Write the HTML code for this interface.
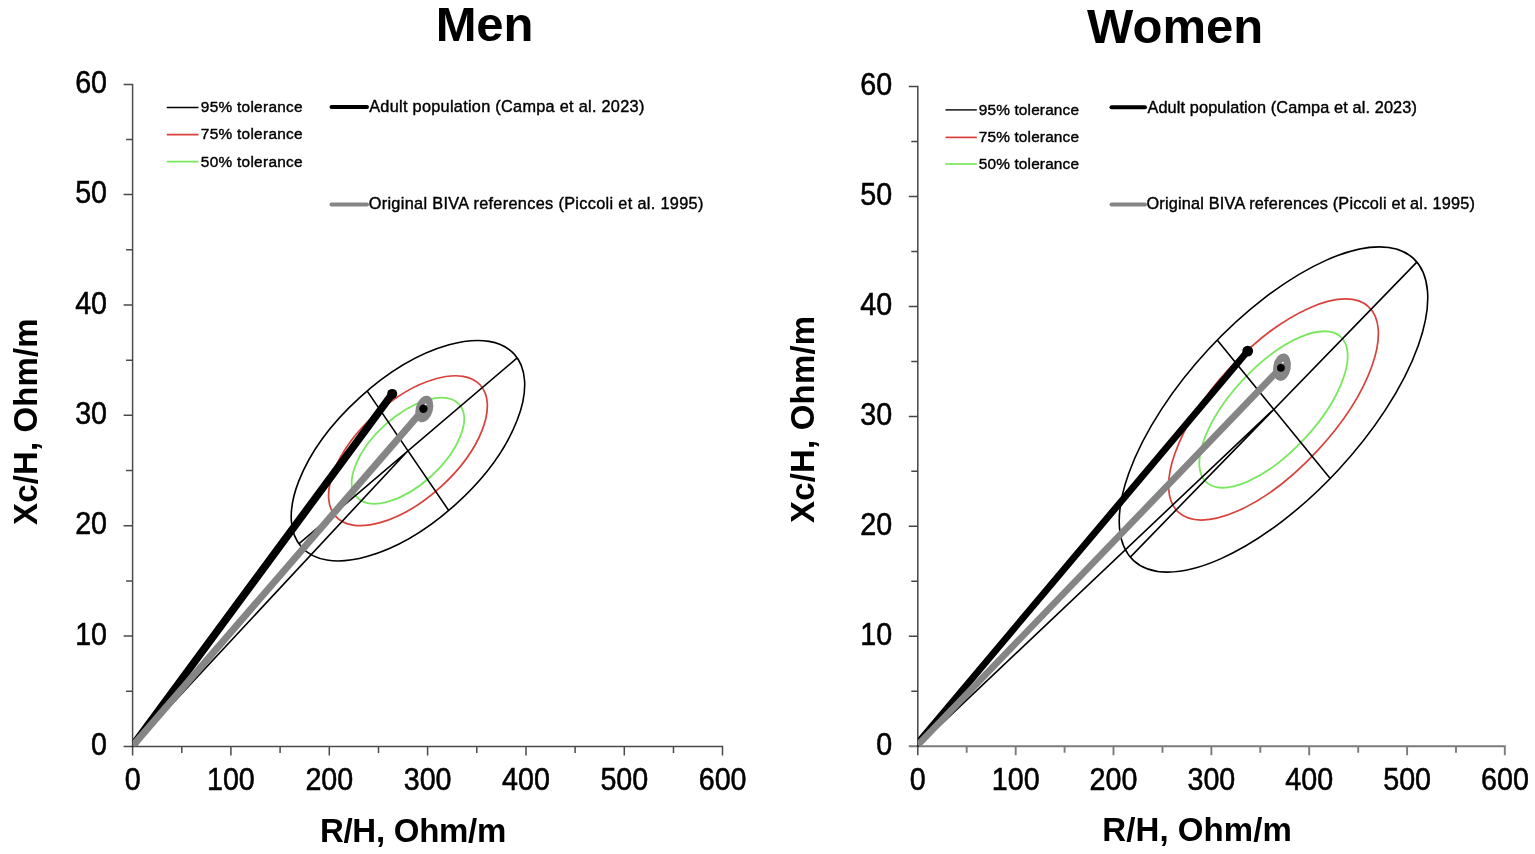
<!DOCTYPE html>
<html><head><meta charset="utf-8"><title>BIVA tolerance ellipses: Men and Women</title>
<style>html,body{margin:0;padding:0;background:#fff;}body{width:1535px;height:854px;position:relative;overflow:hidden;}</style>
</head><body>
<svg width="1535" height="854" viewBox="0 0 1535 854" style="position:absolute;left:0;top:0">
<defs>
<clipPath id="clip0"><rect x="132.6" y="64.6" width="609.9" height="681.8"/></clipPath>
<clipPath id="clip1"><rect x="917.8" y="66.4" width="607.0" height="679.9"/></clipPath>
</defs>
<path d="M123.6 746.4H722.5V755.4M181.8 746.4V752.9M230.9 746.4V755.4M280.1 746.4V752.9M329.3 746.4V755.4M378.5 746.4V752.9M427.6 746.4V755.4M476.8 746.4V752.9M526.0 746.4V755.4M575.1 746.4V752.9M624.3 746.4V755.4M673.5 746.4V752.9" stroke="#4a4a4a" stroke-width="1.5" fill="none"/><path d="M123.6 84.6H132.6V755.4M126.1 691.2H132.6M123.6 636.0H132.6M126.1 580.9H132.6M123.6 525.7H132.6M126.1 470.5H132.6M123.6 415.3H132.6M126.1 360.2H132.6M123.6 305.0H132.6M126.1 249.8H132.6M123.6 194.6H132.6M126.1 139.5H132.6" stroke="#4a4a4a" stroke-width="1.5" fill="none"/>
<g font-family="Liberation Sans, Arial, Helvetica, sans-serif" font-size="30.5" fill="#000" stroke="#000" stroke-width="0.55">
<text transform="translate(107.0 755.0) scale(0.94 1)" text-anchor="end">0</text>
<text transform="translate(107.0 644.6) scale(0.94 1)" text-anchor="end">10</text>
<text transform="translate(107.0 534.3) scale(0.94 1)" text-anchor="end">20</text>
<text transform="translate(107.0 423.9) scale(0.94 1)" text-anchor="end">30</text>
<text transform="translate(107.0 313.6) scale(0.94 1)" text-anchor="end">40</text>
<text transform="translate(107.0 203.2) scale(0.94 1)" text-anchor="end">50</text>
<text transform="translate(107.0 92.9) scale(0.94 1)" text-anchor="end">60</text>
<text transform="translate(132.6 790.0) scale(0.94 1)" text-anchor="middle">0</text>
<text transform="translate(230.9 790.0) scale(0.94 1)" text-anchor="middle">100</text>
<text transform="translate(329.3 790.0) scale(0.94 1)" text-anchor="middle">200</text>
<text transform="translate(427.6 790.0) scale(0.94 1)" text-anchor="middle">300</text>
<text transform="translate(526.0 790.0) scale(0.94 1)" text-anchor="middle">400</text>
<text transform="translate(624.3 790.0) scale(0.94 1)" text-anchor="middle">500</text>
<text transform="translate(722.6 790.0) scale(0.94 1)" text-anchor="middle">600</text>
</g>
<line x1="166.8" y1="107.5" x2="198.5" y2="107.5" stroke="#000" stroke-width="1.4"/>
<line x1="166.8" y1="134.7" x2="198.5" y2="134.7" stroke="#d9403a" stroke-width="1.7"/>
<line x1="166.8" y1="161.6" x2="198.5" y2="161.6" stroke="#7ae85f" stroke-width="1.7"/>
<line x1="331.5" y1="107.1" x2="367.0" y2="107.1" stroke="#000" stroke-width="4" stroke-linecap="round"/>
<line x1="331.5" y1="204.4" x2="367.0" y2="204.4" stroke="#858585" stroke-width="4" stroke-linecap="round"/>
<ellipse cx="407.95" cy="450.7" rx="143.60" ry="71.80" transform="rotate(-42.25 407.95 450.7)" fill="none" stroke="#000" stroke-width="1.6"/>
<ellipse cx="407.95" cy="450.7" rx="97.65" ry="48.82" transform="rotate(-42.25 407.95 450.7)" fill="none" stroke="#d9403a" stroke-width="1.7"/>
<ellipse cx="407.95" cy="450.7" rx="69.07" ry="34.54" transform="rotate(-42.25 407.95 450.7)" fill="none" stroke="#7ae85f" stroke-width="1.8"/>
<path d="M298.8 543.8L517.2 357.9M367.4 391.4L448.5 510.2M132.6 746.4L407.95 450.7" stroke="#000" stroke-width="1.6" fill="none"/>
<g clip-path="url(#clip0)">
<line x1="132.6" y1="745.8" x2="392.2" y2="393.9" stroke="#000" stroke-width="7.6" stroke-linecap="round"/>
<circle cx="392.2" cy="393.9" r="5.0" fill="#000"/>
<line x1="132.6" y1="746.0" x2="423.8" y2="409.0" stroke="#858585" stroke-width="7.0" stroke-linecap="butt"/>
<ellipse cx="424.3" cy="409.0" rx="13.6" ry="8.6" transform="rotate(-75 424.3 409.0)" fill="#858585"/>
<circle cx="423.4" cy="408.8" r="4.2" fill="#000"/>
<circle cx="425.6" cy="404.4" r="0.9" fill="#fff"/>
</g>
<path d="M908.8 746.3H1504.8V755.3M966.7 746.3V752.8M1015.7 746.3V755.3M1064.6 746.3V752.8M1113.5 746.3V755.3M1162.5 746.3V752.8M1211.4 746.3V755.3M1260.3 746.3V752.8M1309.2 746.3V755.3M1358.2 746.3V752.8M1407.1 746.3V755.3M1456.0 746.3V752.8" stroke="#7b7b7b" stroke-width="1.9" fill="none"/><path d="M908.8 86.4H917.8V755.3M911.3 691.3H917.8M908.8 636.3H917.8M911.3 581.3H917.8M908.8 526.3H917.8M911.3 471.3H917.8M908.8 416.4H917.8M911.3 361.4H917.8M908.8 306.4H917.8M911.3 251.4H917.8M908.8 196.4H917.8M911.3 141.4H917.8" stroke="#454545" stroke-width="1.5" fill="none"/>
<g font-family="Liberation Sans, Arial, Helvetica, sans-serif" font-size="30.5" fill="#000" stroke="#000" stroke-width="0.55">
<text transform="translate(892.2 754.9) scale(0.94 1)" text-anchor="end">0</text>
<text transform="translate(892.2 644.9) scale(0.94 1)" text-anchor="end">10</text>
<text transform="translate(892.2 534.9) scale(0.94 1)" text-anchor="end">20</text>
<text transform="translate(892.2 425.0) scale(0.94 1)" text-anchor="end">30</text>
<text transform="translate(892.2 315.0) scale(0.94 1)" text-anchor="end">40</text>
<text transform="translate(892.2 205.0) scale(0.94 1)" text-anchor="end">50</text>
<text transform="translate(892.2 95.0) scale(0.94 1)" text-anchor="end">60</text>
<text transform="translate(917.8 789.9) scale(0.94 1)" text-anchor="middle">0</text>
<text transform="translate(1015.7 789.9) scale(0.94 1)" text-anchor="middle">100</text>
<text transform="translate(1113.5 789.9) scale(0.94 1)" text-anchor="middle">200</text>
<text transform="translate(1211.4 789.9) scale(0.94 1)" text-anchor="middle">300</text>
<text transform="translate(1309.2 789.9) scale(0.94 1)" text-anchor="middle">400</text>
<text transform="translate(1407.1 789.9) scale(0.94 1)" text-anchor="middle">500</text>
<text transform="translate(1505.0 789.9) scale(0.94 1)" text-anchor="middle">600</text>
</g>
<line x1="945.5" y1="109.9" x2="976.8" y2="109.9" stroke="#000" stroke-width="1.4"/>
<line x1="945.5" y1="137.4" x2="976.8" y2="137.4" stroke="#d9403a" stroke-width="1.7"/>
<line x1="945.5" y1="164.0" x2="976.8" y2="164.0" stroke="#7ae85f" stroke-width="1.7"/>
<line x1="1111.5" y1="107.3" x2="1145.0" y2="107.3" stroke="#000" stroke-width="4" stroke-linecap="round"/>
<line x1="1111.5" y1="204.4" x2="1145.0" y2="204.4" stroke="#858585" stroke-width="4" stroke-linecap="round"/>
<ellipse cx="1273.5" cy="409.5" rx="205.90" ry="88.60" transform="rotate(-47.2 1273.5 409.5)" fill="none" stroke="#000" stroke-width="1.6"/>
<ellipse cx="1273.5" cy="409.5" rx="140.01" ry="60.25" transform="rotate(-47.2 1273.5 409.5)" fill="none" stroke="#d9403a" stroke-width="1.7"/>
<ellipse cx="1273.5" cy="409.5" rx="99.04" ry="42.62" transform="rotate(-47.2 1273.5 409.5)" fill="none" stroke="#7ae85f" stroke-width="1.8"/>
<path d="M1130.8 556.6L1416.6 262.4M1217.6 340.6L1330.0 478.2M917.8 746.3L1273.5 409.5" stroke="#000" stroke-width="1.6" fill="none"/>
<g clip-path="url(#clip1)">
<line x1="917.8" y1="743.0" x2="1247.7" y2="351.1" stroke="#000" stroke-width="6.8" stroke-linecap="round"/>
<circle cx="1247.7" cy="351.1" r="5.4" fill="#000"/>
<line x1="917.8" y1="745.0" x2="1281.0" y2="367.6" stroke="#858585" stroke-width="6.7" stroke-linecap="butt"/>
<ellipse cx="1282.0" cy="367.2" rx="13.8" ry="8.8" transform="rotate(-80 1282.0 367.2)" fill="#858585"/>
<circle cx="1280.9" cy="367.8" r="3.9" fill="#000"/>
<circle cx="1282.9" cy="362.6" r="0.9" fill="#fff"/>
</g>
<text x="435.70" y="41.1" font-family="Liberation Sans, Arial, Helvetica, sans-serif" font-size="49" font-weight="bold" textLength="97.70" lengthAdjust="spacing">Men</text>
<text x="1087.10" y="42.7" font-family="Liberation Sans, Arial, Helvetica, sans-serif" font-size="49" font-weight="bold" textLength="176.15" lengthAdjust="spacing">Women</text>
<text x="319.90" y="841.9" font-family="Liberation Sans, Arial, Helvetica, sans-serif" font-size="33" font-weight="bold" textLength="186.46" lengthAdjust="spacing">R/H, Ohm/m</text>
<text x="1102.30" y="841.3" font-family="Liberation Sans, Arial, Helvetica, sans-serif" font-size="33" font-weight="bold" textLength="189.56" lengthAdjust="spacing">R/H, Ohm/m</text>
<text transform="translate(36.5 524.90) rotate(-90)" x="0" y="0" font-family="Liberation Sans, Arial, Helvetica, sans-serif" font-size="33" font-weight="bold" textLength="206.59" lengthAdjust="spacing">Xc/H, Ohm/m</text>
<text transform="translate(814.4 523.00) rotate(-90)" x="0" y="0" font-family="Liberation Sans, Arial, Helvetica, sans-serif" font-size="33" font-weight="bold" textLength="207.09" lengthAdjust="spacing">Xc/H, Ohm/m</text>
<text x="200.80" y="112.2" font-family="Liberation Sans, Arial, Helvetica, sans-serif" font-size="15.4" font-weight="normal" textLength="101.81" lengthAdjust="spacing" stroke="#000" stroke-width="0.4">95% tolerance</text>
<text x="200.80" y="139.2" font-family="Liberation Sans, Arial, Helvetica, sans-serif" font-size="15.4" font-weight="normal" textLength="101.81" lengthAdjust="spacing" stroke="#000" stroke-width="0.4">75% tolerance</text>
<text x="200.80" y="166.6" font-family="Liberation Sans, Arial, Helvetica, sans-serif" font-size="15.4" font-weight="normal" textLength="101.81" lengthAdjust="spacing" stroke="#000" stroke-width="0.4">50% tolerance</text>
<text x="369.20" y="112.0" font-family="Liberation Sans, Arial, Helvetica, sans-serif" font-size="16.3" font-weight="normal" textLength="275.10" lengthAdjust="spacing" stroke="#000" stroke-width="0.4">Adult population (Campa et al. 2023)</text>
<text x="368.70" y="208.5" font-family="Liberation Sans, Arial, Helvetica, sans-serif" font-size="16.3" font-weight="normal" textLength="334.65" lengthAdjust="spacing" stroke="#000" stroke-width="0.4">Original BIVA references (Piccoli et al. 1995)</text>
<text x="978.70" y="114.9" font-family="Liberation Sans, Arial, Helvetica, sans-serif" font-size="15.4" font-weight="normal" textLength="100.31" lengthAdjust="spacing" stroke="#000" stroke-width="0.4">95% tolerance</text>
<text x="978.70" y="141.9" font-family="Liberation Sans, Arial, Helvetica, sans-serif" font-size="15.4" font-weight="normal" textLength="100.31" lengthAdjust="spacing" stroke="#000" stroke-width="0.4">75% tolerance</text>
<text x="978.70" y="168.6" font-family="Liberation Sans, Arial, Helvetica, sans-serif" font-size="15.4" font-weight="normal" textLength="100.31" lengthAdjust="spacing" stroke="#000" stroke-width="0.4">50% tolerance</text>
<text x="1147.40" y="112.9" font-family="Liberation Sans, Arial, Helvetica, sans-serif" font-size="16.3" font-weight="normal" textLength="269.50" lengthAdjust="spacing" stroke="#000" stroke-width="0.4">Adult population (Campa et al. 2023)</text>
<text x="1146.50" y="208.7" font-family="Liberation Sans, Arial, Helvetica, sans-serif" font-size="16.3" font-weight="normal" textLength="328.45" lengthAdjust="spacing" stroke="#000" stroke-width="0.4">Original BIVA references (Piccoli et al. 1995)</text>
</svg>
</body></html>
